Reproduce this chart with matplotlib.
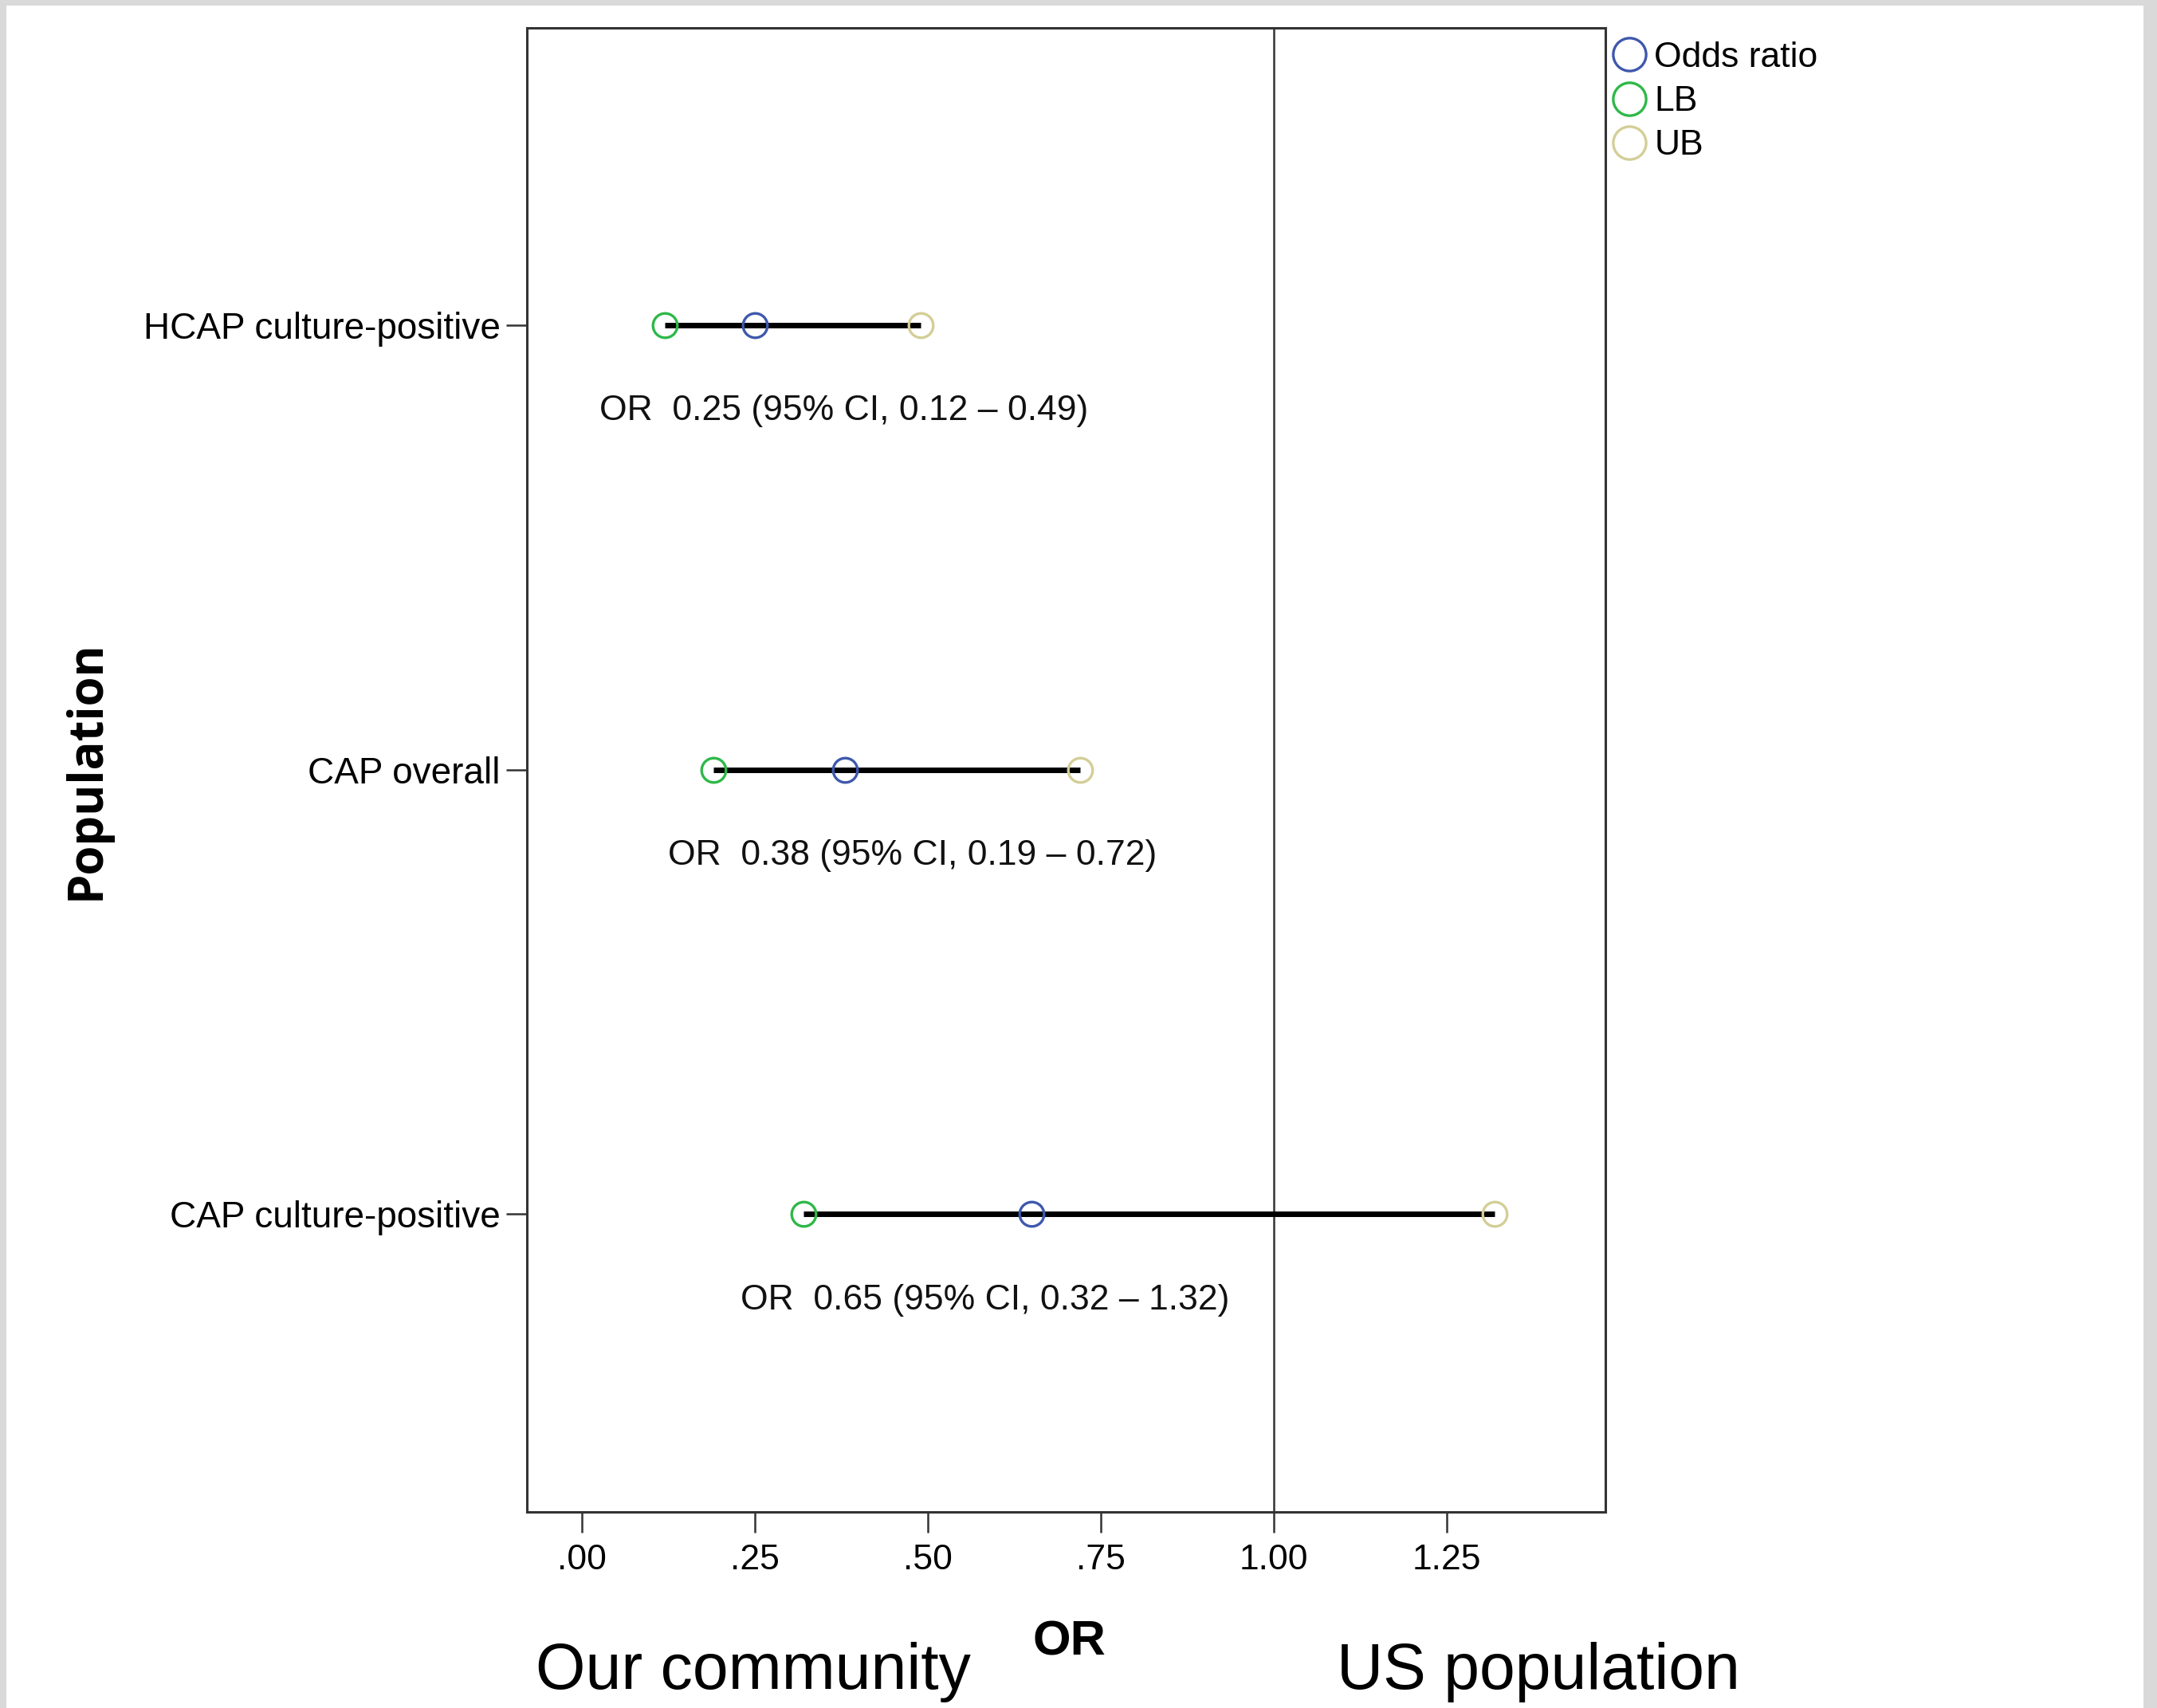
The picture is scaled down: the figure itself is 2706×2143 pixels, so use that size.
import numpy as np
import matplotlib
matplotlib.use('Agg')
import matplotlib.pyplot as plt
from matplotlib.patches import Rectangle
from matplotlib.ticker import FuncFormatter, FixedLocator

# data
populations = ['HCAP culture-positive', 'CAP overall', 'CAP culture-positive']
odds_ratio = [0.25, 0.38, 0.65]
lower_bound = [0.12, 0.19, 0.32]
upper_bound = [0.49, 0.72, 1.32]
x_ticks = [0.0, 0.25, 0.50, 0.75, 1.00, 1.25]

# SPSS style colours
c_or = '#3E58AC'
c_lb = '#2EB848'
c_ub = '#D3CE97'
spine_col = '#333333'

plt.rcParams['font.family'] = ['Liberation Sans', 'DejaVu Sans']

W, H = 2706, 2143
fig = plt.figure(figsize=(W / 100, H / 100), dpi=100)

# light grey page frame (left, top, right)
for (x0, y0, w, h) in [(0, 0, 8 / W, 1), (0, 1 - 7 / H, 1, 7 / H), (1 - 17 / W, 0, 17 / W, 1)]:
    fig.add_artist(Rectangle((x0, y0), w, h, transform=fig.transFigure,
                             facecolor='#d9d9d9', edgecolor='none', zorder=0))

ax = fig.add_axes([661 / W, 1 - 1897 / H, (2014 - 661) / W, (1897 - 34.5) / H])

ypos = np.arange(len(populations))[::-1] + 1  # top row first

ax.axvline(1.0, color=spine_col, lw=1.8, zorder=1)
ax.hlines(ypos, lower_bound, upper_bound, color='black', lw=5.0, zorder=2)

ms = 22
mew = 2.4
ax.plot(odds_ratio, ypos, 'o', ms=ms, mfc='none', mec=c_or, mew=mew, zorder=3, label='Odds ratio')
ax.plot(lower_bound, ypos, 'o', ms=ms, mfc='none', mec=c_lb, mew=mew, zorder=3, label='LB')
ax.plot(upper_bound, ypos, 'o', ms=ms, mfc='none', mec=c_ub, mew=mew, zorder=3, label='UB')

# text under each interval
label_x = [0.378, 0.478, 0.583]
for i in range(len(populations)):
    txt = 'OR  %.2f (95%% CI, %.2f \u2013 %.2f)' % (odds_ratio[i], lower_bound[i], upper_bound[i])
    ax.text(label_x[i], ypos[i] - 0.193, txt, ha='center', va='center', fontsize=32, color='#111111')

ax.set_xlim(-0.08, 1.48)
ax.set_ylim(0.33, 3.67)
ax.xaxis.set_major_locator(FixedLocator(x_ticks))
ax.xaxis.set_major_formatter(FuncFormatter(lambda v, p: ('%.2f' % v).lstrip('0') if v < 1 else '%.2f' % v))
ax.set_yticks(ypos)
ax.set_yticklabels(populations)

for s in ax.spines.values():
    s.set_color(spine_col)
    s.set_linewidth(2.2)

ax.tick_params(axis='x', length=19, width=1.8, color=spine_col, labelsize=32, pad=10)
ax.tick_params(axis='y', length=19, width=1.8, color=spine_col, labelsize=33, pad=5)

ax.set_xlabel('OR', fontsize=44, fontweight='bold')
ax.xaxis.set_label_coords(0.5026, -0.088)
ax.xaxis.label.set_va('center')
ax.set_ylabel('Population', fontsize=43, fontweight='bold', family=['Open Sans', 'DejaVu Sans'])
ax.yaxis.set_label_coords(-0.408, 0.5)
ax.yaxis.label.set_va('center')

fig.text(945 / W, 1 - 2119 / H, 'Our community', fontsize=58, ha='center', va='baseline')
fig.text(1930 / W, 1 - 2119 / H, 'US population', fontsize=58, ha='center', va='baseline')

leg = ax.legend(loc='upper left', bbox_to_anchor=(2022 / W, 1 - 52 / H),
                bbox_transform=fig.transFigure, frameon=False, fontsize=32,
                handlelength=1.0, handletextpad=0.2, borderpad=0, borderaxespad=0,
                labelspacing=0.32, markerscale=1.35)

fig.savefig('out.png', dpi=100, facecolor='white')
